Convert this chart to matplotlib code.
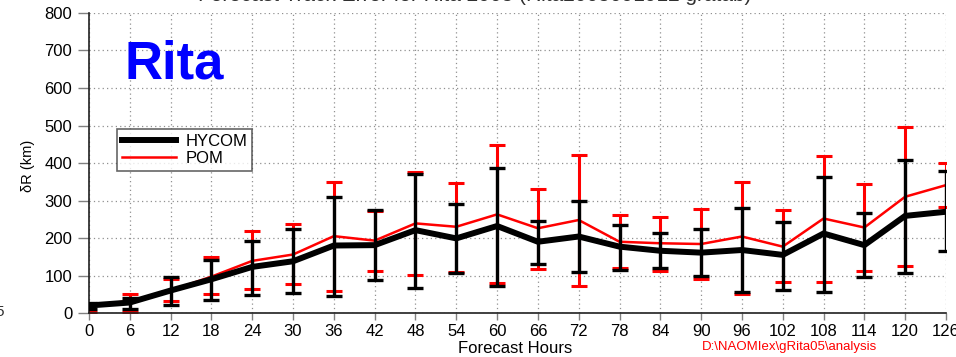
import numpy as np
import matplotlib
matplotlib.use("Agg")
import matplotlib.pyplot as plt
from matplotlib.lines import Line2D

plt.rcParams["font.family"] = ["Liberation Sans", "DejaVu Sans"]

# Forecast hours and track errors (km), mean with upper/lower bar ends
hours = [0, 6, 12, 18, 24, 30, 36, 42, 48, 54, 60, 66, 72, 78, 84, 90, 96, 102, 108, 114, 120, 126]

hycom_mean = [20, 28, 60, 90, 123, 138, 180, 181, 221, 199, 232, 190, 204, 177, 166, 161, 168, 155, 212, 181, 259, 270]
hycom_upper = [28, 41, 97, 141, 193, 223, 310, 275, 372, 290, 388, 245, 298, 236, 214, 224, 281, 244, 364, 268, 408, 379]
hycom_lower = [12, 12, 21, 35, 48, 54, 46, 88, 66, 107, 72, 131, 109, 116, 121, 100, 55, 61, 56, 97, 106, 165]

pom_mean = [20, 32, 60, 97, 139, 156, 205, 193, 239, 230, 263, 226, 248, 190, 186, 184, 204, 177, 252, 228, 310, 341]
pom_upper = [25, 50, 92, 150, 219, 237, 350, 272, 375, 348, 448, 331, 421, 261, 257, 277, 350, 274, 420, 343, 495, 401]
pom_lower = [4, 4, 32, 52, 63, 77, 60, 113, 101, 110, 79, 117, 73, 120, 113, 90, 51, 84, 82, 113, 126, 282]

yticks = [0, 100, 200, 300, 400, 500, 600, 700, 800]


def bar_extent(mean, upper, lower):
    mean = np.array(mean, dtype=float)
    return [mean - np.array(lower), np.array(upper) - mean]


fig = plt.figure(figsize=(9.56, 3.57), dpi=100)
ax = fig.add_axes([0.0931, 0.1232, 0.8964, 0.8404])

ax.errorbar(hours, pom_mean, yerr=bar_extent(pom_mean, pom_upper, pom_lower),
            fmt="none", ecolor="#ff0000", elinewidth=2.2, capsize=6, capthick=2.2, zorder=2)
ax.plot(hours, pom_mean, color="#ff0000", lw=1.8, zorder=3)
ax.errorbar(hours, hycom_mean, yerr=bar_extent(hycom_mean, hycom_upper, hycom_lower),
            fmt="none", ecolor="black", elinewidth=2.4, capsize=6, capthick=2.4, zorder=4)
ax.plot(hours, hycom_mean, color="black", lw=4.3, zorder=5, solid_joinstyle="miter")

ax.set_xlim(0, 126)
ax.set_ylim(0, 800)
ax.set_xticks(hours)
ax.set_yticks(yticks)
ax.tick_params(axis="both", labelsize=12, color="#808080")
ax.tick_params(axis="y", length=8, width=1, pad=4)
ax.tick_params(axis="x", length=5, width=1, pad=3)
ax.grid(True, color="#909090", linestyle=(0, (1, 2.5)), linewidth=0.9)
ax.set_axisbelow(True)
for side in ("top", "right"):
    ax.spines[side].set_visible(False)
for side in ("left", "bottom"):
    ax.spines[side].set_color("#202020")
    ax.spines[side].set_linewidth(1.2)

ax.set_xlabel("Forecast Hours", fontsize=12)
ax.xaxis.set_label_coords(0.497, -0.093)
ax.set_ylabel("δR (km)", fontsize=10.5)
ax.yaxis.set_label_coords(-0.063, 0.49)

handles = [Line2D([], [], color="black", lw=4.3), Line2D([], [], color="#ff0000", lw=1.8)]
leg = ax.legend(handles, ["HYCOM", "POM"], loc="upper left", bbox_to_anchor=(0.033, 0.615),
                fontsize=12, frameon=True, fancybox=False, borderpad=0.3, handlelength=3.2,
                handletextpad=0.6, labelspacing=0.15, borderaxespad=0)
leg.get_frame().set_edgecolor("#404040")
leg.get_frame().set_linewidth(1.2)

ax.text(0.041, 0.78, "Rita", transform=ax.transAxes, color="#0000ff",
        fontsize=38, fontweight="bold", va="baseline")

fig.text(0.497, 0.996, "Forecast Track Error for Rita 2005 (Rita2005091912 gratab)",
         ha="center", va="baseline", fontsize=15, color="#303030")
fig.text(0.826, 0.028, r"D:\NAOMIex\gRita05\analysis", ha="center", va="center",
         fontsize=9.5, color="#ff0000")
fig.text(0.004, 0.127, "5", ha="right", va="center", fontsize=11, color="#303030")

fig.savefig("out.png", dpi=100)
